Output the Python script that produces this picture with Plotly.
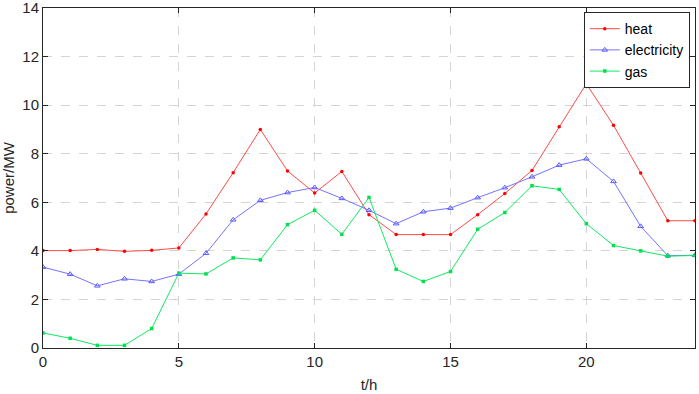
import plotly.graph_objects as go

hours = list(range(25))
heat = [4.01, 4.01, 4.06, 3.98, 4.02, 4.12, 5.52, 7.22, 9.0, 7.29, 6.38, 7.27, 5.49, 4.67, 4.67, 4.67,
        5.49, 6.36, 7.31, 9.11, 10.88, 9.17, 7.21, 5.24, 5.24]
electricity = [3.33, 3.04, 2.56, 2.85, 2.74, 3.04, 3.90, 5.28, 6.08, 6.40, 6.61, 6.16, 5.67, 5.12, 5.61, 5.76,
               6.19, 6.6, 7.05, 7.53, 7.79, 6.86, 5.01, 3.80, 3.82]
gas = [0.62, 0.40, 0.11, 0.11, 0.80, 3.08, 3.05, 3.71, 3.63, 5.08, 5.67, 4.68, 6.2, 3.24, 2.74, 3.15,
       4.89, 5.58, 6.68, 6.53, 5.12, 4.22, 4.0, 3.78, 3.81]
x_ticks = [0, 5, 10, 15, 20]
y_ticks = [0, 2, 4, 6, 8, 10, 12, 14]

FONT = "Liberation Sans, Arial"

fig = go.Figure()
fig.add_trace(go.Scatter(x=hours, y=heat, name="heat", mode="lines+markers",
                         line=dict(color="#ff4a4a", width=1),
                         marker=dict(symbol="circle", size=3.5, color="#ff0000")))
fig.add_trace(go.Scatter(x=hours, y=electricity, name="electricity", mode="lines+markers",
                         line=dict(color="#7474ff", width=1),
                         marker=dict(symbol="triangle-up-open", size=5, color="#5a5aff", line=dict(width=1))))
fig.add_trace(go.Scatter(x=hours, y=gas, name="gas", mode="lines+markers",
                         line=dict(color="#10ea60", width=1),
                         marker=dict(symbol="square", size=3.5, color="#00e050")))

axis_common = dict(showline=True, linecolor="#262626", linewidth=1, mirror="ticks",
                   ticks="inside", ticklen=5, tickcolor="#262626", automargin=False,
                   ticklabeloverflow="allow",
                   showgrid=True, gridcolor="#d4d4d4", griddash="dash", gridwidth=1,
                   zeroline=False, tickfont=dict(family=FONT, size=15, color="#262626"))

fig.update_xaxes(range=[0, 24], tickvals=x_ticks, **axis_common,
                 title=dict(text="t/h", font=dict(family=FONT, size=15, color="#262626"),
                            standoff=10))
fig.update_yaxes(range=[0, 14], tickvals=y_ticks, **axis_common,
                 title=dict(text="power/MW", font=dict(family=FONT, size=15, color="#262626"),
                            standoff=6))

fig.update_layout(
    width=699, height=394,
    margin=dict(l=43, r=4, t=8, b=46, autoexpand=False),
    plot_bgcolor="white", paper_bgcolor="white",
    showlegend=True,
    legend=dict(x=0.992, y=0.988, xanchor="right", yanchor="top",
                bgcolor="white", bordercolor="#262626", borderwidth=1,
                font=dict(family=FONT, size=14, color="#000000"),
                tracegroupgap=0, itemwidth=30),
)

fig.write_html("out.html", config={"displayModeBar": False},
               post_script="document.body.style.margin='0';document.body.style.padding='0';"
                           "document.body.style.overflow='hidden';")
